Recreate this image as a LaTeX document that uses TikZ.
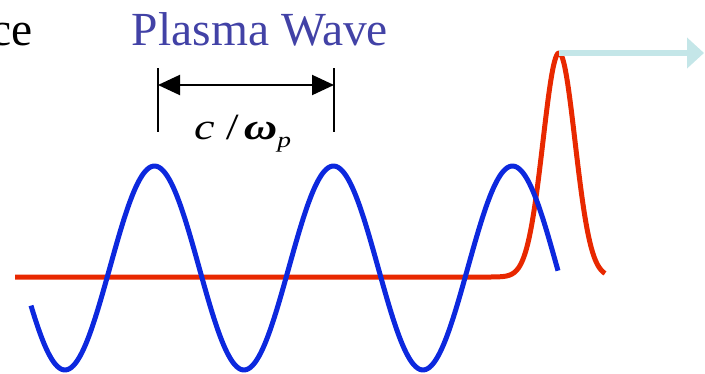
\documentclass[tikz,border=0pt]{standalone}
\usepackage{fontspec}
\setmainfont{Liberation Serif}
\usetikzlibrary{arrows.meta}
\definecolor{wavetitle}{RGB}{66,66,166}
\definecolor{waveblue}{RGB}{12,40,222}
\definecolor{pulsered}{RGB}{232,40,0}
\definecolor{lightcyan}{RGB}{196,230,232}
\tikzset{
  wave/.style={draw=waveblue, line width=5pt, line join=round},
  pulse/.style={draw=pulsered, line width=5pt, line join=round},
  dimtick/.style={draw=black, line width=2pt},
  dimarrow/.style={draw=black, line width=2pt, {Triangle[length=22pt,width=20pt]}-{Triangle[length=22pt,width=20pt]}},
  motion/.style={draw=lightcyan, line width=6pt, -{Triangle[length=17pt,width=30pt]}},
  bigtext/.style={inner sep=0pt, font=\fontsize{47.5}{50}\selectfont}
}
\begin{document}
\begin{tikzpicture}[x=1pt,y=-1pt]
\useasboundingbox (0,0) rectangle (705,373);
% texts
\node[bigtext, anchor=base east] (ce) at (33,45) {ce};
\node[bigtext, anchor=base, text=wavetitle] (title) at (260,45) {Plasma Wave};
% dimension
\coordinate (dimLt) at (158,68);
\coordinate (dimLb) at (158,132);
\coordinate (dimRt) at (334,68);
\coordinate (dimRb) at (334,132);
\coordinate (dimL) at (158,85);
\coordinate (dimR) at (334,85);
\draw[dimtick] (dimLt) -- (dimLb);
\draw[dimtick] (dimRt) -- (dimRb);
\draw[dimarrow] (dimL) -- (dimR);
\node[inner sep=0pt, anchor=base west, font=\fontsize{37}{39}\selectfont] (lambda) at (194,139)
  {\scalebox{1.25}[1]{\textit{c}\hspace{9pt}/\hspace{4pt}\textbf{\textit{ω}}\raisebox{-8pt}{\fontsize{22}{22}\selectfont\textit{p}}}};
% red pulse
\coordinate (redstart) at (15,277);
\coordinate (redflat) at (490,277);
\draw[pulse] (redstart) -- (redflat)
  -- plot[domain=490:605, samples=120, smooth] (\x, {277-224*exp(-((\x-559)/16)^2/2)});
% blue plasma wave
\draw[wave] plot[domain=31:558, samples=260, smooth] (\x, {268+102*cos(2.01117*(\x-65))});
% laser motion arrow
\coordinate (peak) at (559,53);
\coordinate (arrowend) at (704,53);
\draw[motion] (peak) -- (arrowend);
\end{tikzpicture}
\end{document}
